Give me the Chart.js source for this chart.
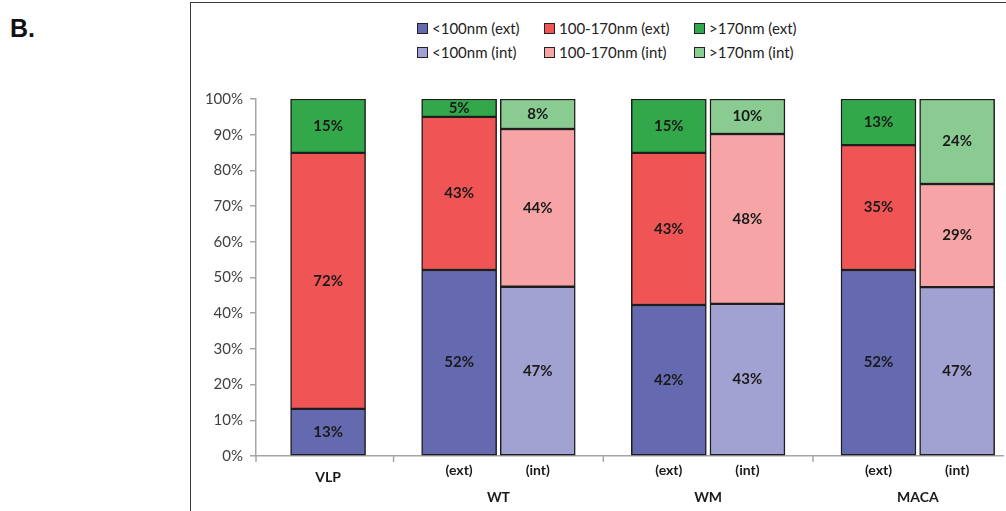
<!DOCTYPE html>
<html>
<head>
<meta charset="utf-8">
<script src="https://cdn.jsdelivr.net/npm/chart.js@4"></script>
<style>
    body { margin: 0; background: #fff; overflow: hidden; }
    #wrap { position: relative; width: 1006px; height: 511px; }
    #frame { position: absolute; left: 190px; top: 2px; right: 0; bottom: 0;
             border-left: 1.5px solid #3a3a3a; border-top: 1.5px solid #3a3a3a; }
    #panel { position: absolute; left: 10px; top: 14px; font: bold 25px "Liberation Sans", Arial, sans-serif; color: #111; }
    #legend { position: absolute; left: 417px; top: 16px; display: grid;
              grid-template-columns: 127px 150px auto; grid-auto-rows: 24px;
              font: 15px Lato, sans-serif; color: #222; }
    #legend span { display: flex; align-items: center; white-space: nowrap; }
    #legend i { display: inline-block; width: 9px; height: 9px; border: 1px solid #222; margin-right: 4px; }
</style>
</head>
<body>
<div id="wrap">
    <div id="frame"></div>
    <div id="panel">B.</div>
    <div id="legend"></div>
    <canvas id="myChart" width="1006" height="511" style="position:absolute;left:0;top:0"></canvas>
</div>
<script>
// Grupos y barras (una barra por muestra)
const groups = ['VLP', 'WT', 'WM', 'MACA'];
const barLabels = ['', '(ext)', '(int)', '(ext)', '(int)', '(ext)', '(int)'];
const barGroup = [0, 1, 1, 2, 2, 3, 3];
const barIsInt = [false, false, true, false, true, false, true];

// Porcentajes por tamaño
const small = [13.2, 52.1, 47.4, 42.3, 42.6, 52.1, 47.3];   // <100nm
const mid = [71.7, 42.9, 44.2, 42.6, 47.6, 35.0, 28.9];     // 100-170nm
const large = [15.1, 5.0, 8.4, 15.1, 9.8, 12.9, 23.8];      // >170nm

const seriesNames = ['<100nm (ext)', '100-170nm (ext)', '>170nm (ext)',
                     '<100nm (int)', '100-170nm (int)', '>170nm (int)'];
const seriesColors = ['#6569B0', '#F05555', '#33A84A', '#A1A2D2', '#F6A4A5', '#89CB91'];

const yTicks = [0, 10, 20, 30, 40, 50, 60, 70, 80, 90, 100];

// Distribución en ranuras del eje de categorías (espacios vacíos entre grupos)
const lead = 5, pairStep = 6, groupStep = 10, tail = 3;
const slotOf = [];
let pos = lead;
for (let i = 0; i < barLabels.length; i++) {
    if (i > 0) pos += (barGroup[i] === barGroup[i - 1]) ? pairStep : groupStep;
    slotOf.push(pos);
}
const slotCount = pos + 1 + tail;
const slotLabels = new Array(slotCount).fill('');

function seriesData(values, wantInt) {
    const d = new Array(slotCount).fill(null);
    values.forEach((v, i) => { if (barIsInt[i] === wantInt) d[slotOf[i]] = v; });
    return d;
}

const sizes = [small, mid, large];
const datasets = seriesNames.map((name, k) => ({
    label: name,
    data: seriesData(sizes[k % 3], k >= 3),
    backgroundColor: seriesColors[k],
    borderColor: '#1e1e1e',
    borderWidth: 1.5,
    borderSkipped: false,
    barThickness: 75,
    stack: 's'
}));

// Leyenda en HTML
const legend = document.getElementById('legend');
datasets.forEach(ds => {
    const item = document.createElement('span');
    item.innerHTML = '<i style="background:' + ds.backgroundColor + '"></i>';
    item.appendChild(document.createTextNode(ds.label));
    legend.appendChild(item);
});

const FONT = 'Lato, sans-serif';

// Etiquetas de valor dentro de cada segmento
const valueLabels = {
    id: 'valueLabels',
    afterDatasetsDraw(chart) {
        const ctx = chart.ctx;
        ctx.save();
        ctx.font = 'bold 15px ' + FONT;
        ctx.fillStyle = '#1a1a1a';
        ctx.textAlign = 'center';
        ctx.textBaseline = 'middle';
        chart.data.datasets.forEach((ds, i) => {
            chart.getDatasetMeta(i).data.forEach((el, j) => {
                const v = ds.data[j];
                if (v == null) return;
                ctx.fillText(Math.round(v) + '%', el.x, (el.y + el.base) / 2);
            });
        });
        ctx.restore();
    }
};

// Eje X de dos niveles
const groupAxis = {
    id: 'groupAxis',
    afterDraw(chart) {
        const ctx = chart.ctx;
        const x = chart.scales.x;
        const bottom = chart.chartArea.bottom;
        ctx.save();
        ctx.strokeStyle = '#a6a6a6';
        ctx.lineWidth = 1.5;
        const seps = [x.left];
        for (let i = 1; i < barLabels.length; i++) {
            if (barGroup[i] !== barGroup[i - 1]) {
                seps.push((x.getPixelForValue(slotOf[i - 1]) + x.getPixelForValue(slotOf[i])) / 2);
            }
        }
        seps.forEach(px => {
            ctx.beginPath();
            ctx.moveTo(px, bottom);
            ctx.lineTo(px, bottom + 6);
            ctx.stroke();
        });
        ctx.font = 'bold 14px ' + FONT;
        ctx.fillStyle = '#1a1a1a';
        ctx.textAlign = 'center';
        ctx.textBaseline = 'middle';
        barLabels.forEach((lab, i) => {
            if (lab) ctx.fillText(lab, x.getPixelForValue(slotOf[i]), bottom + 14);
        });
        groups.forEach((g, gi) => {
            const px = slotOf.filter((s, i) => barGroup[i] === gi).map(s => x.getPixelForValue(s));
            const cx = px.reduce((a, b) => a + b, 0) / px.length;
            const y = px.length > 1 ? bottom + 41 : bottom + 21;
            ctx.fillText(g, cx, y);
        });
        ctx.restore();
    }
};

const ctx = document.getElementById('myChart').getContext('2d');
const myChart = new Chart(ctx, {
    type: 'bar',
    data: { labels: slotLabels, datasets: datasets },
    options: {
        responsive: false,
        animation: false,
        layout: { padding: { left: 190, top: 99, right: 3, bottom: 0 } },
        plugins: { legend: { display: false }, tooltip: { enabled: false } },
        scales: {
            x: {
                stacked: true,
                grid: { display: true, drawOnChartArea: false, drawTicks: false, color: 'rgba(0,0,0,0)' },
                border: { display: true, color: '#a6a6a6', width: 1.5 },
                ticks: { display: false },
                afterFit: s => { s.height = 55; }
            },
            y: {
                stacked: true,
                min: 0,
                max: 100,
                afterBuildTicks: s => { s.ticks = yTicks.map(v => ({ value: v })); },
                grid: { drawOnChartArea: false, drawTicks: true, tickLength: 6, color: '#a6a6a6', lineWidth: 1.5 },
                border: { color: '#a6a6a6', width: 1.5 },
                ticks: { padding: 7, color: '#404040', font: { family: FONT, size: 15 }, callback: v => v + '%' },
                afterFit: s => { s.width = 66; }
            }
        }
    },
    plugins: [valueLabels, groupAxis]
});
</script>
</body>
</html>
